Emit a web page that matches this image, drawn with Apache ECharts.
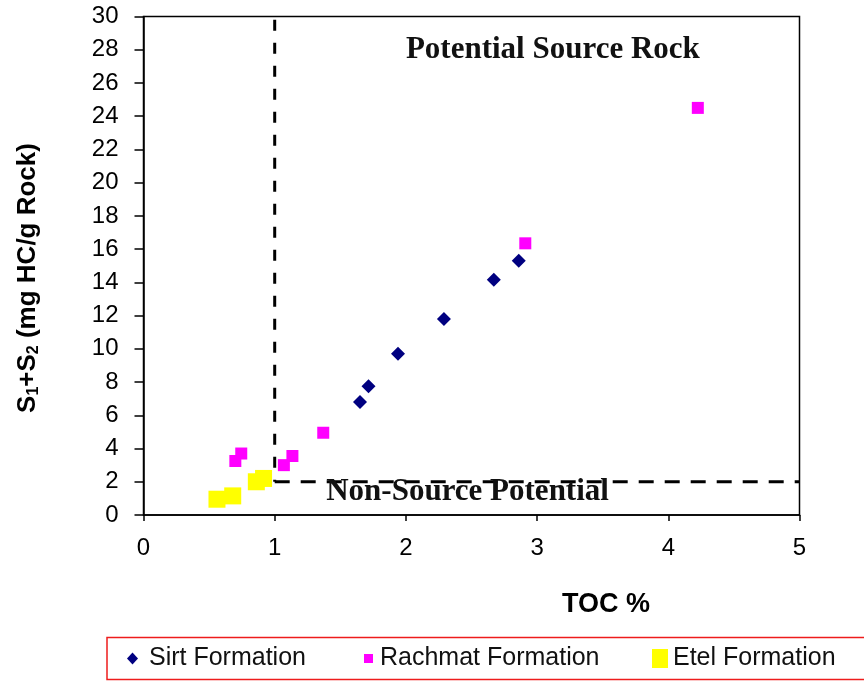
<!DOCTYPE html>
<html>
<head>
<meta charset="utf-8">
<script src="https://cdn.jsdelivr.net/npm/echarts@6/dist/echarts.min.js"></script>
<style>
html,body{margin:0;padding:0;background:#fff;}
#chart{width:864px;height:682px;}
</style>
</head>
<body>
<div id="chart"></div>
<script>
// ---- data ----
const sirtTOC = [1.65, 1.715, 1.94, 2.29, 2.67, 2.86];
const sirtS1S2 = [6.8, 7.75, 9.7, 11.8, 14.15, 15.3];

const rachmatTOC = [0.70, 0.745, 1.07, 1.135, 1.37, 2.91, 4.225];
const rachmatS1S2 = [3.25, 3.7, 3.0, 3.55, 4.95, 16.35, 24.5];

const etelTOC = [0.56, 0.68, 0.86, 0.915];
const etelS1S2 = [0.95, 1.15, 2.0, 2.2];

// threshold lines (TOC = 1 %, S1+S2 = 2 mg HC/g rock)
const tocCut = 1;
const s1s2Cut = 2;
const xTicksMax = 5;
const yTicksMax = 30;

const seriesNames = ['Sirt Formation', 'Rachmat Formation', 'Etel Formation'];
const zoneLabels = ['Potential Source Rock', 'Non-Source Potential'];

const zip = (a, b) => a.map((v, i) => [v, b[i]]);

const chart = echarts.init(document.getElementById('chart'), null, {renderer: 'canvas'});
const sans = 'Liberation Sans, Arial, sans-serif';
const serif = 'Liberation Serif, Times New Roman, serif';

const legendBase = {
  orient: 'horizontal', padding: 0, top: 646, selectedMode: false,
  textStyle: {fontFamily: sans, fontSize: 25, color: '#111'}
};

chart.setOption({
  animation: false,
  backgroundColor: '#fff',
  grid: {left: 143.5, right: 64.5, top: 16.5, bottom: 167, show: true, borderColor: '#000', borderWidth: 1.5},
  xAxis: {
    type: 'value', min: 0, max: xTicksMax, interval: 1,
    axisLine: {lineStyle: {color: '#000', width: 1.5}},
    axisTick: {show: true, length: 6, lineStyle: {color: '#000', width: 1.5}},
    splitLine: {show: false},
    axisLabel: {fontFamily: sans, fontSize: 24, color: '#000', margin: 21}
  },
  yAxis: {
    type: 'value', min: 0, max: yTicksMax, interval: 2,
    axisLine: {lineStyle: {color: '#000', width: 1.5}},
    axisTick: {show: true, length: 9, lineStyle: {color: '#000', width: 1.5}},
    splitLine: {show: false},
    axisLabel: {fontFamily: sans, fontSize: 24, color: '#000', margin: 25}
  },
  legend: [
    Object.assign({}, legendBase, {left: 127, data: [{name: seriesNames[0], icon: 'diamond'}], itemWidth: 11, itemHeight: 12,
      textStyle: Object.assign({}, legendBase.textStyle, {padding: [0, 0, 0, 6]})}),
    Object.assign({}, legendBase, {left: 364, data: [{name: seriesNames[1], icon: 'rect'}], itemWidth: 9, itemHeight: 9,
      textStyle: Object.assign({}, legendBase.textStyle, {padding: [0, 0, 0, 2]})}),
    Object.assign({}, legendBase, {left: 652, data: [{name: seriesNames[2], icon: 'rect'}], itemWidth: 16, itemHeight: 19})
  ],
  graphic: [
    {type: 'rect', shape: {x: 107, y: 637.5, width: 760, height: 42}, style: {fill: 'none', stroke: '#ee1c1c', lineWidth: 1.5}, silent: true},
    {type: 'text', x: 606, y: 605, style: {text: 'TOC %', font: 'bold 27px ' + sans, fill: '#000', align: 'center', verticalAlign: 'middle'}},
    {type: 'text', x: 28, y: 278, rotation: Math.PI / 2,
      style: {
        text: '{m|S}{s|1}{m|+S}{s|2}{m| (mg HC/g Rock)}',
        align: 'center', verticalAlign: 'middle',
        rich: {
          m: {font: 'bold 26px ' + sans, fill: '#000', lineHeight: 32, verticalAlign: 'middle'},
          s: {font: 'bold 16px ' + sans, fill: '#000', lineHeight: 32, verticalAlign: 'bottom', padding: [0, 0, 2, 0]}
        }
      }}
  ],
  series: [
    {
      name: seriesNames[0], type: 'scatter', symbol: 'diamond', symbolSize: 14,
      itemStyle: {color: '#000080', opacity: 1}, data: zip(sirtTOC, sirtS1S2), z: 3
    },
    {
      name: seriesNames[1], type: 'scatter', symbol: 'rect', symbolSize: 12,
      itemStyle: {color: '#ff00ff', opacity: 1}, data: zip(rachmatTOC, rachmatS1S2), z: 3
    },
    {
      name: seriesNames[2], type: 'scatter', symbol: 'rect', symbolSize: 17,
      itemStyle: {color: '#ffff00', opacity: 1}, data: zip(etelTOC, etelS1S2), z: 3
    },
    {
      name: 'cutV', type: 'line', symbol: 'none', silent: true, z: 2,
      lineStyle: {color: '#000', width: 3, type: [11, 12]},
      data: [[tocCut, yTicksMax - 0.2], [tocCut, s1s2Cut]]
    },
    {
      name: 'cutH', type: 'line', symbol: 'none', silent: true, z: 2,
      lineStyle: {color: '#000', width: 3, type: [15, 11]},
      data: [[tocCut, s1s2Cut], [xTicksMax, s1s2Cut]]
    },
    {
      name: 'notes', type: 'scatter', symbolSize: 0, silent: true, z: 4,
      data: [],
      markPoint: {
        symbolSize: 0, silent: true,
        label: {show: true, position: 'inside', fontFamily: serif, fontWeight: 'bold', fontSize: 31, color: '#111'},
        data: [
          {coord: [3.12, 28.0], value: zoneLabels[0], label: {formatter: zoneLabels[0]}},
          {coord: [2.47, 1.4], value: zoneLabels[1], label: {formatter: zoneLabels[1]}}
        ]
      }
    }
  ]
});
</script>
</body>
</html>
